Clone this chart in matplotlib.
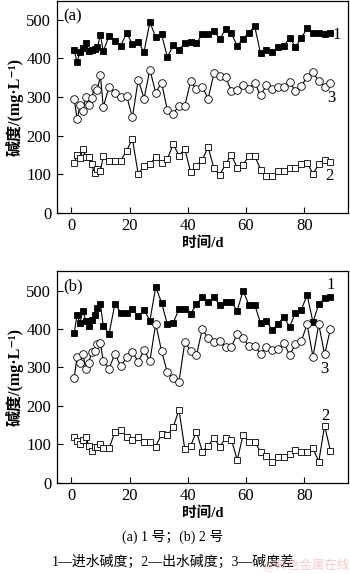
import matplotlib
matplotlib.use('Agg')
import matplotlib.pyplot as plt

plt.rcParams['font.family'] = ['Liberation Serif', 'Noto Sans CJK SC', 'DejaVu Sans']
plt.rcParams['axes.unicode_minus'] = False

# 时间 (d)
days = [1, 2, 3, 4, 5, 6, 7, 8, 9, 10, 11, 13, 15, 17, 19, 21, 23, 25, 27, 29,
        31, 33, 35, 37, 39, 41, 43, 45, 47, 49, 51, 53, 55, 57, 59, 61, 63, 65, 67, 69,
        71, 73, 75, 77, 79, 81, 83, 85, 87, 89]

# (a) 1号  1-进水碱度, 2-出水碱度, 3-碱度差
a_in = [421, 390, 417, 427, 440, 420, 423, 425, 429, 461, 418, 459, 445, 433, 466, 437, 442, 417, 494, 455,
        463, 403, 434, 423, 439, 442, 440, 462, 463, 472, 450, 476, 465, 432, 451, 467, 483, 413, 423, 416,
        429, 433, 453, 430, 453, 478, 465, 465, 464, 465]
a_out = [128, 150, 141, 165, 144, 144, 125, 103, 113, 107, 146, 133, 135, 135, 161, 191, 100, 122, 125, 145,
         128, 139, 178, 148, 165, 105, 122, 137, 170, 115, 98, 126, 150, 116, 124, 148, 148, 112, 94, 96,
         107, 107, 115, 116, 126, 129, 101, 126, 137, 131]
a_diff = [296, 242, 278, 264, 300, 279, 298, 323, 318, 356, 274, 327, 311, 300, 303, 247, 345, 296, 371, 311,
          337, 266, 257, 277, 277, 341, 320, 326, 296, 361, 354, 352, 315, 318, 330, 321, 337, 304, 330, 320,
          327, 327, 339, 315, 328, 352, 364, 341, 327, 335]

# (b) 2号
b_in = [390, 437, 416, 448, 420, 407, 424, 436, 456, 466, 407, 388, 466, 442, 443, 452, 433, 450, 422, 509,
        469, 412, 416, 452, 452, 439, 465, 483, 470, 483, 463, 470, 470, 448, 500, 463, 463, 416, 422, 397,
        414, 431, 406, 443, 450, 489, 418, 465, 480, 483]
b_out = [118, 109, 102, 112, 120, 96, 83, 93, 92, 102, 89, 89, 133, 138, 119, 112, 119, 107, 105, 94,
         126, 124, 144, 190, 87, 96, 133, 81, 96, 116, 94, 116, 112, 59, 124, 106, 106, 81, 70, 55,
         66, 66, 74, 85, 81, 79, 89, 55, 148, 83]
b_diff = [272, 328, 311, 334, 297, 311, 341, 343, 360, 363, 317, 297, 336, 303, 326, 340, 315, 345, 317, 414,
          343, 287, 273, 263, 366, 343, 332, 400, 376, 366, 369, 354, 354, 388, 376, 356, 356, 336, 353, 345,
          347, 363, 333, 360, 369, 412, 328, 412, 334, 400]

x_ticks = [0, 20, 40, 60, 80]
y_ticks = [0, 100, 200, 300, 400, 500]


def draw_panel(ax, s_in, s_out, s_diff, tag, lab_pos):
    ax.plot(days, s_in, '-', color='k', lw=0.8, marker='s', ms=5, mfc='k', mec='k', mew=0.6)
    ax.plot(days, s_diff, '-', color='k', lw=0.8, marker='o', ms=5.5, mfc='white', mec='k', mew=0.6)
    ax.plot(days, s_out, '-', color='k', lw=0.8, marker='s', ms=5, mfc='white', mec='k', mew=0.6)
    ax.set_xlim(-5, 95)
    ax.set_ylim(0, 550)
    ax.set_xticks(x_ticks)
    ax.set_yticks(y_ticks)
    ax.tick_params(direction='in', length=4, width=0.8, labelsize=12, pad=4)
    for sp in ax.spines.values():
        sp.set_linewidth(0.9)
    ax.text(0.022, 0.965, tag, transform=ax.transAxes, ha='left', va='top', fontsize=12)
    # 曲线编号
    for lab, (x, y) in zip(['1', '2', '3'], lab_pos):
        ax.text(x, y, lab, ha='center', va='center', fontsize=12)
    ax.set_ylabel('碱度/(mg·L⁻¹)', fontsize=11.5, fontweight='bold')
    ax.set_xlabel('时间/d', fontsize=10.5, fontweight='bold')
    ax.yaxis.set_label_coords(-0.115, 0.5)
    ax.xaxis.set_label_coords(0.5, -0.11)


fig = plt.figure(figsize=(3.5, 5.74), dpi=100)
ax1 = fig.add_axes([0.162, 0.6294, 0.832, 0.3697])
ax2 = fig.add_axes([0.162, 0.1591, 0.832, 0.368])

draw_panel(ax1, a_in, a_out, a_diff, '(a)', [(91, 461), (88.8, 94), (89.4, 297)])
draw_panel(ax2, b_in, b_out, b_diff, '(b)', [(89, 515), (87.1, 174), (86.9, 296)])

fig.text(0.494, 0.0645, '(a) 1 号；(b) 2 号', ha='center', va='center', fontsize=10)
fig.text(0.494, 0.021, '1—进水碱度；2—出水碱度；3—碱度差', ha='center', va='center', fontsize=10)
fig.text(0.875, 0.016, '@有色金属在线', ha='center', va='center', fontsize=9,
         color='#f2b8b8', alpha=0.7)

fig.savefig('out.png', dpi=100)
